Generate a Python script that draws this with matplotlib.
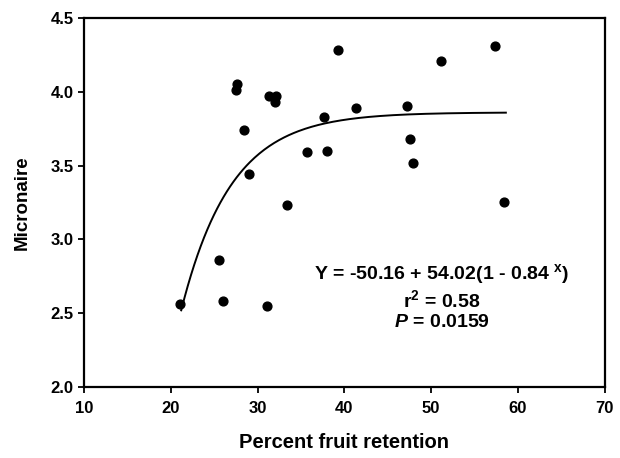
import numpy as np
import matplotlib
matplotlib.use("Agg")
import matplotlib.pyplot as plt

plt.rcParams['font.family'] = ['Liberation Sans', 'DejaVu Sans']
plt.rcParams['font.weight'] = 'bold'
plt.rcParams['mathtext.fontset'] = 'custom'
plt.rcParams['mathtext.rm'] = 'Liberation Sans:bold'
plt.rcParams['mathtext.it'] = 'Liberation Sans:italic:bold'
plt.rcParams['mathtext.bf'] = 'Liberation Sans:bold'

# fruit retention (%) vs micronaire
retention = [21.1, 25.5, 26.0, 27.5, 27.6, 28.4, 29.0, 31.1, 31.3, 32.0, 32.1,
             33.4, 35.7, 37.6, 38.0, 39.3, 41.3, 47.2, 47.6, 47.9, 51.1, 57.4, 58.4]
micronaire = [2.56, 2.86, 2.58, 4.01, 4.05, 3.74, 3.44, 2.55, 3.97, 3.93, 3.97,
              3.23, 3.59, 3.83, 3.60, 4.28, 3.89, 3.90, 3.68, 3.52, 4.21, 4.31, 3.25]

# fitted model Y = a + b(1 - c^x)
a, b, c = -50.16, 54.02, 0.84
fit_x = np.linspace(21.2, 58.6, 200)
fit_y = a + b * (1 - c ** fit_x)

fig = plt.figure(figsize=(6.2, 4.58), dpi=100)
ax = fig.add_axes([0.1355, 0.155, 0.84, 0.806])

ax.scatter(retention, micronaire, s=40, color='black', zorder=3)
ax.plot(fit_x, fit_y, color='black', lw=1.4)

ax.set_xlim(10, 70)
ax.set_ylim(2.0, 4.5)
ax.set_xticks(range(10, 71, 10))
ax.set_yticks(np.arange(2.0, 4.51, 0.5))
ax.set_yticklabels(['%.1f' % v for v in np.arange(2.0, 4.51, 0.5)])
ax.tick_params(direction='out', length=4, width=1.3, labelsize=12)
ax.tick_params(axis='x', pad=6)
for s in ax.spines.values():
    s.set_linewidth(1.6)

ax.set_xlabel('Percent fruit retention', fontsize=14.5, fontweight='bold', labelpad=12)
ax.set_ylabel('Micronaire', fontsize=13.5, fontweight='bold', labelpad=14)

ax.text(51.2, 2.766, r'Y = -50.16 + 54.02(1 - 0.84 $^{\mathrm{x}}$)', ha='center', va='center',
        fontsize=14, fontweight='bold')
ax.text(51.2, 2.589, r'r$^{\mathrm{2}}$ = 0.58', ha='center', va='center', fontsize=14, fontweight='bold')
ax.text(51.2, 2.434, r'$P$ = 0.0159', ha='center', va='center', fontsize=14, fontweight='bold')

fig.savefig('out.png', dpi=100)
